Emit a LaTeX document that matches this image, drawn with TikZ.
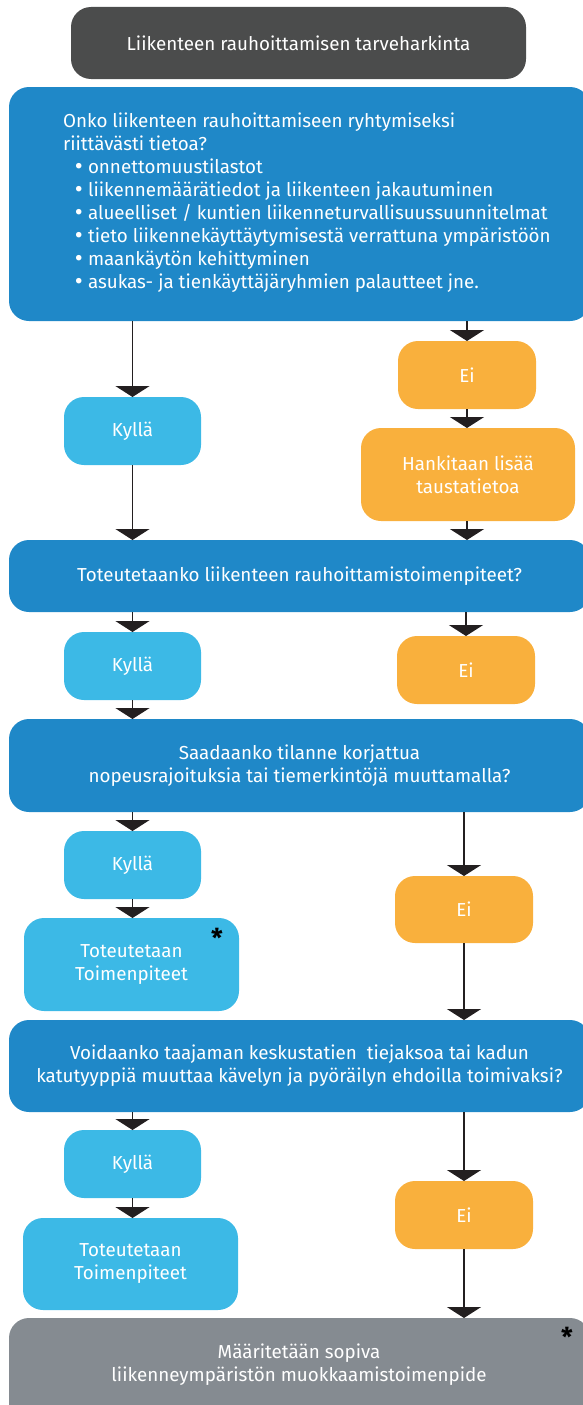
\documentclass[tikz,border=0pt]{standalone}
\usepackage{fontspec}
\setmainfont{Fira Sans}
\usetikzlibrary{arrows.meta}
\definecolor{cdark}{HTML}{4B4C4C}
\definecolor{cblue}{HTML}{1F88C8}
\definecolor{clight}{HTML}{3CB9E6}
\definecolor{corange}{HTML}{F9B03D}
\definecolor{cgray}{HTML}{858B91}
\definecolor{carrow}{HTML}{231F20}
\newcommand{\bul}{\hspace*{12pt}\makebox[13pt][l]{\raisebox{-0.8pt}{\scalebox{1.3}{•}}}}
\begin{document}
\begin{tikzpicture}[x=1pt,y=-1pt,
  box/.style={rounded corners=20pt, inner sep=0pt, outer sep=0pt, text=white,
    font=\fontsize{18.8}{23}\selectfont, align=center},
  txt/.style={inner sep=0pt, outer sep=0pt, text=white, font=\fontsize{18.8}{23}\selectfont},
  wide/.style={box, fill=cblue, minimum width=581pt},
  yes/.style={box, fill=clight, minimum width=137pt, minimum height=68pt},
  no/.style={box, fill=corange, minimum width=138pt, minimum height=68pt},
  act/.style={box, fill=clight, minimum width=215pt, minimum height=93pt},
  star/.style={inner sep=0pt, font=\fontsize{26}{26}\bfseries, text=black},
  arr/.style={draw=carrow, line width=1.8pt, -{Triangle[width=34pt,length=11pt]}}]
\useasboundingbox (0,0) rectangle (583,1405);

\node[box, fill=cdark, minimum width=455pt, minimum height=72pt] (top) at (298.5,43) {Liikenteen rauhoittamisen tarveharkinta};

\node[wide, minimum height=234pt] (q1) at (299.5,204) {};
\node[txt, anchor=west, align=left] (q1t) at (63,203) {Onko liikenteen rauhoittamiseen ryhtymiseksi\\
riittävästi tietoa?\\
\bul onnettomuustilastot\\
\bul liikennemäärätiedot ja liikenteen jakautuminen\\
\bul alueelliset / kuntien liikenneturvallisuussuunnitelmat\\
\bul tieto liikennekäyttäytymisestä verrattuna ympäristöön\\
\bul maankäytön kehittyminen\\
\bul asukas- ja tienkäyttäjäryhmien palautteet jne.};

\node[yes] (k1) at (132.5,431) {Kyllä};
\node[no] (e1) at (467,375) {Ei};
\node[box, fill=corange, minimum width=214pt, minimum height=93pt] (h1) at (468,474.5) {Hankitaan lisää\\taustatietoa};

\node[wide, minimum height=72pt] (q2) at (299.5,576) {Toteutetaanko liikenteen rauhoittamistoimenpiteet?};
\node[yes] (k2) at (132.5,666) {Kyllä};
\node[no] (e2) at (466,670) {Ei};

\node[wide, minimum height=93pt] (q3) at (299.5,765.5) {Saadaanko tilanne korjattua\\nopeusrajoituksia tai tiemerkintöjä muuttamalla?};
\node[yes] (k3) at (132.5,865) {Kyllä};
\node[act] (t1) at (131.5,964.5) {Toteutetaan\\Toimenpiteet};
\node[star] (s1) at (217,938) {*};
\node[no, minimum height=67pt] (e3) at (464,909.5) {Ei};

\node[wide, minimum height=92pt] (q4) at (299.5,1066) {Voidaanko taajaman keskustatien\ \ tiejaksoa tai kadun\\katutyyppiä muuttaa kävelyn ja pyöräilyn ehdoilla toimivaksi?};
\node[yes] (k4) at (132.5,1164) {Kyllä};
\node[act, minimum height=92pt] (t2) at (130.5,1264) {Toteutetaan\\Toimenpiteet};
\node[no] (e4) at (464,1215) {Ei};

\node[box, fill=cgray, minimum width=581pt, minimum height=122pt] (q5) at (299.5,1379) {};
\node[txt, align=center] (q5t) at (299,1365) {Määritetään sopiva\\liikenneympäristön muokkaamistoimenpide};
\node[star] (s2) at (567,1337) {*};

\draw[arr] (q1.south -| k1.north) -- (k1.north);
\draw[arr] (q1.south -| e1.north) -- (e1.north);
\draw[arr] (e1.south) -- (e1.south |- h1.north);
\draw[arr] (k1.south) -- (k1.south |- q2.north);
\draw[arr] (h1.south -| e1.south) -- (e1.south |- q2.north);

\draw[arr] (q2.south -| k2.north) -- (k2.north);
\draw[arr] (q2.south -| e2.north) -- (e2.north);
\draw[arr] (k2.south) -- (k2.south |- q3.north);

\draw[arr] (q3.south -| k3.north) -- (k3.north);
\draw[arr] (k3.south) -- (k3.south |- t1.north);
\draw[arr] (q3.south -| e3.north) -- (e3.north);
\draw[arr] (e3.south) -- (e3.south |- q4.north);

\draw[arr] (q4.south -| k4.north) -- (k4.north);
\draw[arr] (k4.south) -- (k4.south |- t2.north);
\draw[arr] (q4.south -| e4.north) -- (e4.north);
\draw[arr] (e4.south) -- (e4.south |- q5.north);
\end{tikzpicture}
\end{document}
